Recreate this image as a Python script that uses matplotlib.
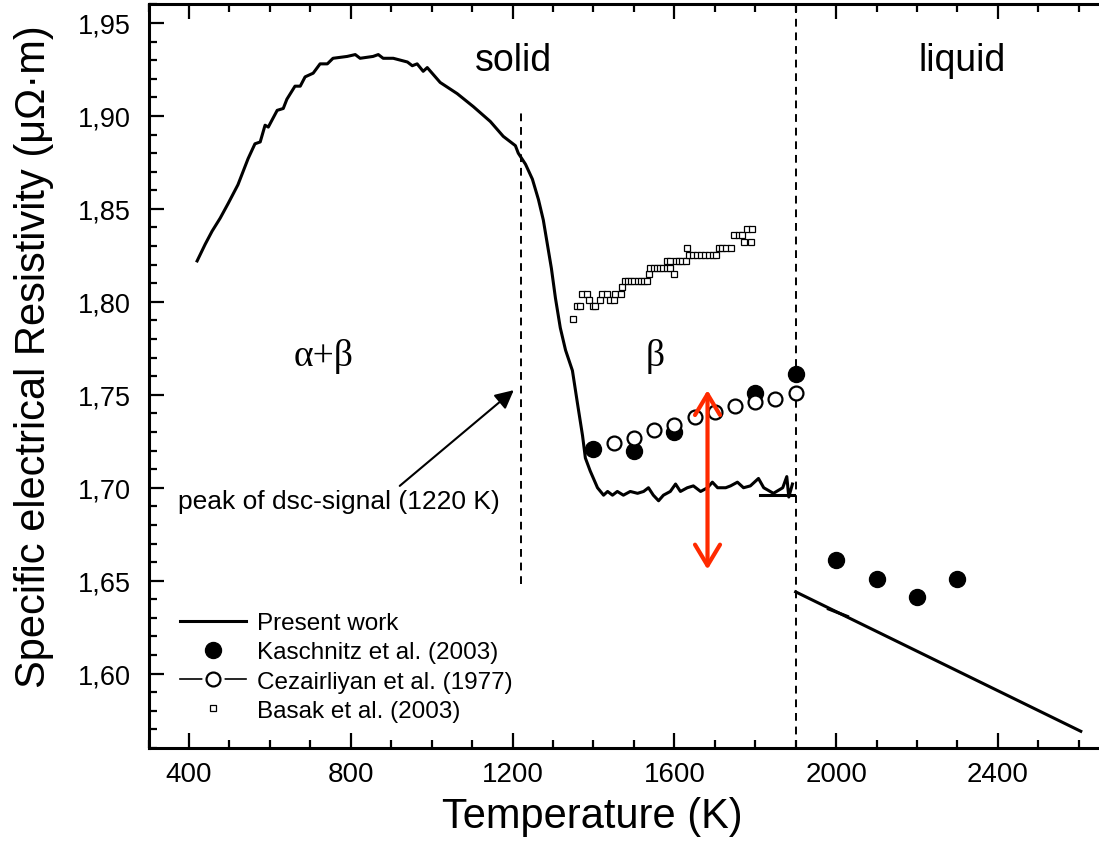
import matplotlib as mpl
mpl.use("Agg")
import matplotlib.pyplot as plt
import matplotlib.ticker as ticker
from matplotlib.lines import Line2D

mpl.rcParams.update({
    "font.family": ["Liberation Sans", "DejaVu Sans"],
    "xtick.direction": "in",
    "ytick.direction": "in",
})

# ---------------------------------------------------------------- data
# present work, solid phase (K, µΩ·m)
pw_T = [420, 440, 457, 477, 497, 521, 546, 563, 576, 588, 596, 618, 633, 642,
        662, 675, 687, 707, 724, 742, 756, 791, 811, 823, 855, 868, 880, 905,
        940, 952, 964, 979, 989, 1001, 1021, 1063, 1103, 1145, 1177, 1207,
        1214, 1232, 1249, 1264, 1276, 1286, 1296, 1306, 1318, 1331, 1348, 1360,
        1373, 1380, 1392, 1410, 1425, 1435, 1447, 1459, 1474, 1491, 1509, 1524,
        1536, 1548, 1561, 1573, 1590, 1603, 1615, 1632, 1647, 1665, 1682, 1694,
        1707, 1727, 1739, 1756, 1771, 1788, 1808, 1821, 1845, 1868, 1878, 1883,
        1892]
pw_rho = [1.822, 1.831, 1.838, 1.845, 1.853, 1.863, 1.877, 1.885, 1.886, 1.895,
          1.894, 1.903, 1.904, 1.909, 1.916, 1.916, 1.921, 1.923, 1.928, 1.928,
          1.931, 1.932, 1.933, 1.931, 1.932, 1.933, 1.931, 1.931, 1.929, 1.927,
          1.928, 1.924, 1.926, 1.923, 1.918, 1.912, 1.905, 1.897, 1.889, 1.884,
          1.880, 1.874, 1.866, 1.855, 1.844, 1.831, 1.818, 1.802, 1.786, 1.774,
          1.763, 1.746, 1.728, 1.716, 1.709, 1.700, 1.696, 1.698, 1.696, 1.698,
          1.696, 1.698, 1.697, 1.698, 1.700, 1.696, 1.693, 1.696, 1.698, 1.702,
          1.698, 1.700, 1.701, 1.698, 1.700, 1.703, 1.700, 1.700, 1.701, 1.703,
          1.700, 1.701, 1.705, 1.700, 1.697, 1.700, 1.706, 1.695, 1.702]
# short horizontal piece at the end of the solid range
pw_tail_T = [1813, 1895]
pw_tail_rho = [1.696, 1.696]
# present work, liquid phase
pw_liq_T = [1900, 2605]
pw_liq_rho = [1.644, 1.569]
pw_liq2_T = [1981, 2028]
pw_liq2_rho = [1.6348, 1.6308]

# Kaschnitz et al. (2003)
ka_T = [1400, 1500, 1600, 1800, 1900, 2000, 2100, 2200, 2300]
ka_rho = [1.721, 1.720, 1.730, 1.751, 1.761, 1.661, 1.651, 1.641, 1.651]

# Cezairliyan et al. (1977)
ce_T = [1450, 1500, 1550, 1600, 1650, 1700, 1750, 1800, 1850, 1900]
ce_rho = [1.724, 1.727, 1.731, 1.734, 1.738, 1.741, 1.744, 1.746, 1.748, 1.751]

# Basak et al. (2003)
ba_T = [1349, 1359, 1366, 1372, 1383, 1388, 1399, 1405, 1416, 1421, 1434, 1442,
        1450, 1454, 1467, 1471, 1477, 1485, 1493, 1501, 1509, 1517, 1525, 1533,
        1537, 1541, 1549, 1557, 1565, 1573, 1581, 1589, 1599, 1582, 1590, 1603,
        1611, 1619, 1628, 1632, 1636, 1646, 1656, 1666, 1676, 1685, 1695, 1702,
        1710, 1718, 1727, 1739, 1747, 1760, 1768, 1772, 1789, 1780, 1793]
ba_rho = [1.791, 1.798, 1.798, 1.804, 1.804, 1.801, 1.798, 1.798, 1.801, 1.804,
          1.804, 1.801, 1.801, 1.804, 1.804, 1.808, 1.811, 1.811, 1.811, 1.811,
          1.811, 1.811, 1.811, 1.811, 1.815, 1.818, 1.818, 1.818, 1.818, 1.818,
          1.818, 1.818, 1.815, 1.822, 1.822, 1.822, 1.822, 1.822, 1.822, 1.829,
          1.825, 1.825, 1.825, 1.825, 1.825, 1.825, 1.825, 1.825, 1.829, 1.829,
          1.829, 1.829, 1.836, 1.836, 1.836, 1.832, 1.832, 1.839, 1.839]

T_dsc = 1220
T_melt = 1900

# ---------------------------------------------------------------- figure
fig = plt.figure(figsize=(10.99, 8.53), dpi=100)
ax = fig.add_axes([0.1352, 0.1219, 0.8648, 0.8718])

lw = 2.2
ax.plot(pw_T, pw_rho, color="black", lw=lw, zorder=3)
ax.plot(pw_tail_T, pw_tail_rho, color="black", lw=lw, zorder=3)
ax.plot(pw_liq_T, pw_liq_rho, color="black", lw=lw, zorder=3)
ax.plot(pw_liq2_T, pw_liq2_rho, color="black", lw=lw, zorder=3)

ax.plot(ba_T, ba_rho, ls="none", marker="s", ms=4.2, mfc="white",
        mec="black", mew=0.9, zorder=4)
ax.plot(ka_T, ka_rho, ls="none", marker="o", ms=11.5, mfc="black",
        mec="black", zorder=5)
ax.plot(ce_T, ce_rho, ls="none", marker="o", ms=10, mfc="white",
        mec="black", mew=1.6, zorder=6)

# dashed markers of dsc peak and melting
ax.vlines(T_dsc, 1.648, 1.902, colors="black", lw=1.4,
          linestyles=(0, (4, 3)), zorder=2)
ax.axvline(T_melt, color="black", lw=1.4, ls=(0, (4, 3)), zorder=2)

# annotations
ax.annotate("", xy=(1203, 1.7525), xytext=(921, 1.701),
            arrowprops=dict(arrowstyle="-|>", color="black", lw=1.5,
                            mutation_scale=28, shrinkA=0, shrinkB=0))
ax.text(373, 1.693, "peak of dsc-signal (1220 K)", fontsize=19,
        ha="left", va="center")
ax.annotate("", xy=(1682, 1.7525), xytext=(1682, 1.6560),
            arrowprops=dict(arrowstyle="<->,head_length=0.75,head_width=0.45",
                            color="#ff2a00", lw=3, mutation_scale=20,
                            shrinkA=0, shrinkB=0), zorder=7)

ax.text(1202, 1.930, "solid", fontsize=27, ha="center", va="center")
ax.text(2311, 1.930, "liquid", fontsize=27, ha="center", va="center")
ax.text(732, 1.771, "α+β", fontsize=27, ha="center", va="center",
        family="Liberation Serif")
ax.text(1553, 1.771, "β", fontsize=27, ha="center", va="center",
        family="Liberation Serif")

# axes
ax.set_xlim(300, 2650)
ax.set_ylim(1.56, 1.96)
ax.xaxis.set_major_locator(ticker.MultipleLocator(400))
ax.xaxis.set_minor_locator(ticker.MultipleLocator(100))
ax.yaxis.set_major_locator(ticker.MultipleLocator(0.05))
ax.yaxis.set_minor_locator(ticker.MultipleLocator(0.01))
ax.yaxis.set_major_formatter(ticker.FuncFormatter(
    lambda v, p: f"{v:.2f}".replace(".", ",")))
ax.xaxis.set_major_formatter(ticker.FuncFormatter(lambda v, p: f"{v:.0f}"))

ax.spines["right"].set_visible(False)
for s in ("left", "bottom", "top"):
    ax.spines[s].set_linewidth(2.2)
ax.tick_params(which="both", top=True, right=False, width=1.6)
ax.tick_params(which="major", length=11)
ax.tick_params(which="minor", length=5.5)
ax.tick_params(axis="x", labelsize=20, pad=9)
ax.tick_params(axis="y", labelsize=19.5, pad=13)

ax.set_xlabel("Temperature (K)", fontsize=30)
ax.xaxis.set_label_coords(0.467, -0.064)
ax.set_ylabel("Specific electrical Resistivity (μΩ·m)", fontsize=30)
ax.yaxis.set_label_coords(-0.1, 0.527)

# legend
ce_handle = (
    Line2D([], [], color="black", lw=1.2),
    Line2D([], [], ls="none", marker="o", ms=15, mfc="white", mec="white"),
    Line2D([], [], ls="none", marker="o", ms=10, mfc="white", mec="black",
           mew=1.6),
)
handles = [
    Line2D([], [], color="black", lw=lw),
    Line2D([], [], ls="none", marker="o", ms=11.5, mfc="black", mec="black"),
    ce_handle,
    Line2D([], [], ls="none", marker="s", ms=5, mfc="white", mec="black",
           mew=0.9),
]
labels = ["Present work", "Kaschnitz et al. (2003)",
          "Cezairliyan et al. (1977)", "Basak et al. (2003)"]
ax.legend(handles, labels, loc="lower left", bbox_to_anchor=(0.033, 0.035),
          frameon=False, fontsize=17.5, handlelength=2.7, handletextpad=0.45,
          labelspacing=0.3, borderpad=0, borderaxespad=0)

fig.savefig("out.png", dpi=100)
